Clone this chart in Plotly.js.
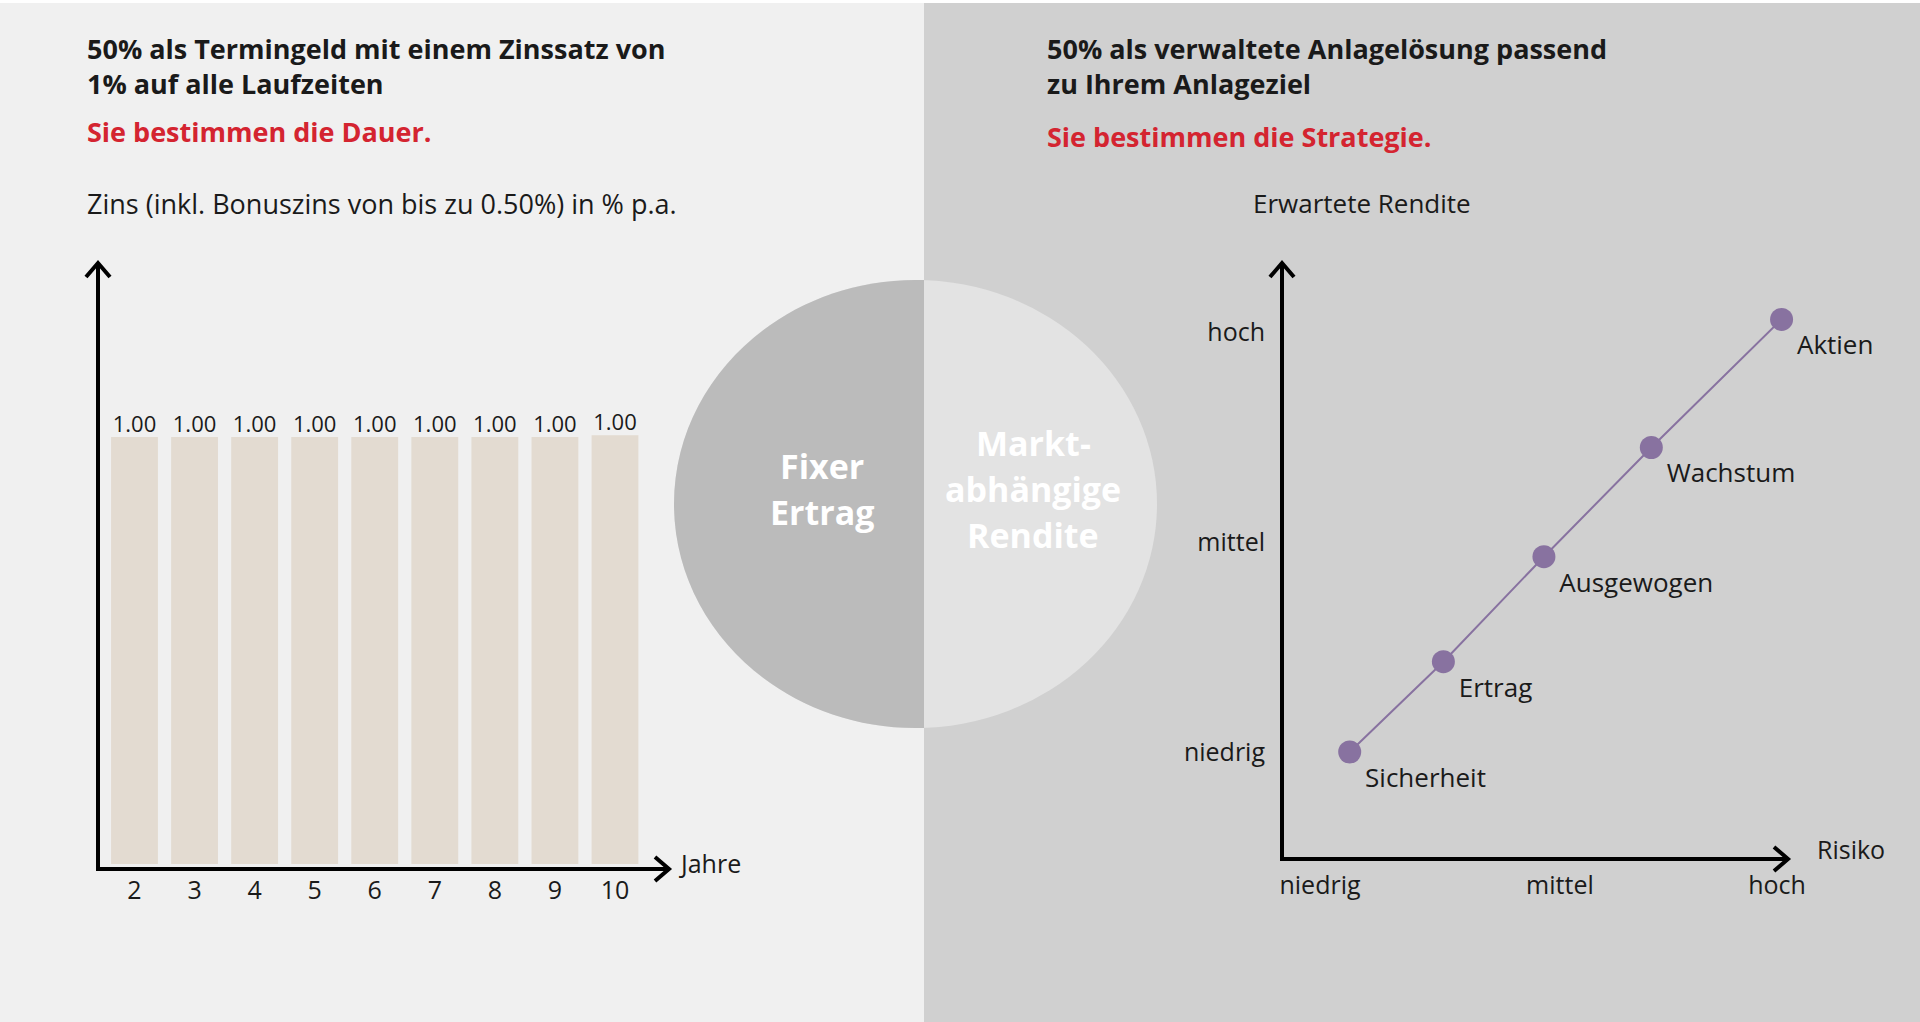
<!DOCTYPE html>
<html><head><meta charset="utf-8">
<script src="https://cdn.plot.ly/plotly-3.0.1.min.js"></script>
<style>html,body{margin:0;padding:0;background:#fff;overflow:hidden}#chart{width:1920px;height:1022px}</style>
</head><body><div id="chart"></div>
<script>
// ---- data ----
const years = ['2','3','4','5','6','7','8','9','10'];
const rates = [1.00, 1.00, 1.00, 1.00, 1.00, 1.00, 1.00, 1.00, 1.004];
const profiles = ['Sicherheit','Ertrag','Ausgewogen','Wachstum','Aktien'];
const riskValues = [1.13, 1.54, 1.98, 2.45, 3.02];
const returnValues = [1.00, 1.43, 1.93, 2.45, 3.06];
const riskTickVals = [1, 2.05, 3];
const returnTickVals = [1, 2, 3];
const levelLabels = ['niedrig', 'mittel', 'hoch'];

// ---- helpers (page pixels -> paper) ----
const W = 1920, H = 1022;
const X = v => v / W;
const Y = v => 1 - v / H;
const FONT = 'Open Sans, Noto Sans, sans-serif';
const INK = '#1a1a1a';
const RED = '#d42430';
const PURPLE = '#8872a0';

function P(pts) { return pts.map(p => X(p[0]) + ',' + Y(p[1])); }

const cx = 915.5, cy = 504, rx = 241.5, ry = 224, k = 0.5523, split = 924;
const hp = P([[split, cy - ry], [cx, cy - ry], [cx - k * rx, cy - ry], [cx - rx, cy - k * ry], [cx - rx, cy],
  [cx - rx, cy + k * ry], [cx - k * rx, cy + ry], [cx, cy + ry], [split, cy + ry]]);
const halfPath = `M${hp[0]} L${hp[1]} C${hp[2]} ${hp[3]} ${hp[4]} C${hp[5]} ${hp[6]} ${hp[7]} L${hp[8]} Z`;

function chevron(a, b, c) { const q = P([a, b, c]); return `M${q[0]} L${q[1]} L${q[2]}`; }

const shapes = [
  {type: 'rect', xref: 'paper', yref: 'paper', x0: X(0), x1: X(split), y0: Y(3), y1: Y(H), fillcolor: '#f0f0f0', line: {width: 0}, layer: 'below'},
  {type: 'rect', xref: 'paper', yref: 'paper', x0: X(split), x1: X(W), y0: Y(3), y1: Y(H), fillcolor: '#d0d0d0', line: {width: 0}, layer: 'below'},
  {type: 'circle', xref: 'paper', yref: 'paper', x0: X(cx - rx), x1: X(cx + rx), y0: Y(cy - ry), y1: Y(cy + ry), fillcolor: '#e3e3e3', line: {width: 0}, layer: 'below'},
  {type: 'path', xref: 'paper', yref: 'paper', path: halfPath, fillcolor: '#bbbbbb', line: {width: 0}, layer: 'below'},
  {type: 'path', xref: 'paper', yref: 'paper', path: chevron([86, 277], [98, 263], [110, 277]), line: {color: '#000', width: 4}, layer: 'above'},
  {type: 'path', xref: 'paper', yref: 'paper', path: chevron([655, 857], [669, 869], [655, 881]), line: {color: '#000', width: 4}, layer: 'above'},
  {type: 'path', xref: 'paper', yref: 'paper', path: chevron([1270, 277], [1282, 263], [1294, 277]), line: {color: '#000', width: 4}, layer: 'above'},
  {type: 'path', xref: 'paper', yref: 'paper', path: chevron([1774, 847], [1788, 859], [1774, 871]), line: {color: '#000', width: 4}, layer: 'above'}
];

function note(text, x, y, size, opts) {
  return Object.assign({xref: 'paper', yref: 'paper', x: X(x), y: Y(y), text: text, showarrow: false,
    xanchor: 'left', yanchor: 'middle', align: 'left', font: {family: FONT, size: size, color: INK}}, opts || {});
}
const boldFont = (size, color) => ({family: FONT, size: size, color: color, weight: 700});
const centered = (size, color) => ({xanchor: 'center', align: 'center', font: boldFont(size, color)});

const annotations = [
  note('50% als Termingeld mit einem Zinssatz von<br>1% auf alle Laufzeiten', 85, 66, 27, {font: boldFont(27, INK)}),
  note('Sie bestimmen die Dauer.', 85, 131, 27, {font: boldFont(27, RED)}),
  note('Zins (inkl. Bonuszins von bis zu 0.50%) in % p.a.', 85, 203, 27),
  note('50% als verwaltete Anlagelösung passend<br>zu Ihrem Anlageziel', 1045, 66, 27, {font: boldFont(27, INK)}),
  note('Sie bestimmen die Strategie.', 1045, 136, 27, {font: boldFont(27, RED)}),
  note('Erwartete Rendite', 1362, 203, 26, {xanchor: 'center', align: 'center'}),
  note('Jahre', 677, 863, 25),
  note('Risiko', 1851, 849, 25, {xanchor: 'center', align: 'center'}),
  note('Fixer', 822, 466, 34, centered(34, '#ffffff')),
  note('Ertrag', 822, 512, 34, centered(34, '#ffffff')),
  note('Markt-', 1033, 443, 34, centered(34, '#ffffff')),
  note('abhängige', 1033, 489, 34, centered(34, '#ffffff')),
  note('Rendite', 1033, 535, 34, centered(34, '#ffffff'))
];

const traces = [
  {type: 'bar', x: years, y: rates, xaxis: 'x', yaxis: 'y',
   marker: {color: '#e3dbd1'}, hoverinfo: 'skip'},
  {type: 'scatter', mode: 'text', x: years, y: rates, xaxis: 'x', yaxis: 'y',
   texttemplate: '%{y:.2f}', textposition: 'top center', cliponaxis: false,
   textfont: {family: FONT, size: 22, color: INK}, hoverinfo: 'skip'},
  {type: 'scatter', mode: 'lines+markers+text', x: riskValues, y: returnValues, text: profiles,
   xaxis: 'x2', yaxis: 'y2', textposition: 'bottom right', cliponaxis: false,
   line: {color: PURPLE, width: 2}, marker: {color: PURPLE, size: 23},
   textfont: {family: FONT, size: 26, color: INK}, hoverinfo: 'skip'}
];

// axis domains
const L = {x0: 100, x1: 669, yb: 867, yt: 263};
const R = {x0: 1284, x1: 1788, yb: 857, yt: 263};
const barStep = 60.06, firstBar = 134.5, barBase = 864, barUnit = 427;
const riskUnit = 228.5, riskOrigin = 1320, retUnit = 210, retOrigin = 752;

const layout = {
  width: W, height: H, margin: {l: 0, r: 0, t: 0, b: 0},
  paper_bgcolor: '#ffffff', plot_bgcolor: 'rgba(0,0,0,0)', showlegend: false,
  bargap: 0.22,
  xaxis: {domain: [X(L.x0), X(L.x1)], anchor: 'y', type: 'category',
    range: [-(firstBar - L.x0) / barStep, (L.x1 - firstBar) / barStep],
    showline: true, linewidth: 4, linecolor: '#000', showgrid: false, zeroline: false, ticks: '',
    ticklabelstandoff: -2, tickfont: {family: FONT, size: 25, color: INK}, fixedrange: true},
  yaxis: {domain: [Y(L.yb), Y(L.yt)], anchor: 'x',
    range: [-(L.yb - barBase) / barUnit, (barBase - L.yt) / barUnit],
    showline: true, linewidth: 4, linecolor: '#000', showgrid: false, zeroline: false, showticklabels: false, ticks: '', fixedrange: true},
  xaxis2: {domain: [X(R.x0), X(R.x1)], anchor: 'y2',
    range: [1 - (riskOrigin - R.x0) / riskUnit, 1 + (R.x1 - riskOrigin) / riskUnit],
    tickvals: riskTickVals, ticktext: levelLabels, ticks: '', ticklabelstandoff: 3,
    showline: true, linewidth: 4, linecolor: '#000', showgrid: false, zeroline: false,
    tickfont: {family: FONT, size: 25, color: INK}, fixedrange: true},
  yaxis2: {domain: [Y(R.yb), Y(R.yt)], anchor: 'x2',
    range: [1 - (R.yb - retOrigin) / retUnit, 1 + (retOrigin - R.yt) / retUnit],
    tickvals: returnTickVals, ticktext: levelLabels, ticks: '', ticklabelstandoff: 10,
    showline: true, linewidth: 4, linecolor: '#000', showgrid: false, zeroline: false,
    tickfont: {family: FONT, size: 25, color: INK}, fixedrange: true},
  shapes: shapes,
  annotations: annotations
};

Plotly.newPlot('chart', traces, layout, {staticPlot: true, displayModeBar: false});
</script>
</body></html>
